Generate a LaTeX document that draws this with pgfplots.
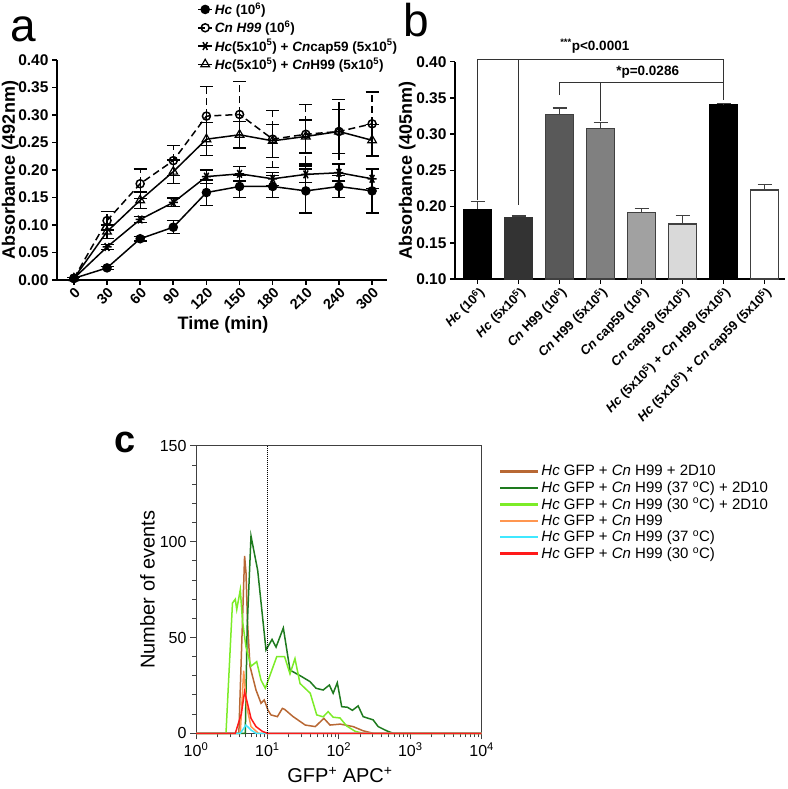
\documentclass[border=0pt]{standalone}
\usepackage{pgfplots}
\pgfplotsset{compat=1.18}
\usepackage{fontspec}
\setmainfont{Liberation Sans}
\newcommand{\fs}[1]{\fontsize{#1}{#1}\selectfont}
\definecolor{cbrown}{RGB}{184,104,52}
\definecolor{cdgreen}{RGB}{30,122,30}
\definecolor{clgreen}{RGB}{124,236,40}
\definecolor{corange}{RGB}{255,150,80}
\definecolor{ccyan}{RGB}{64,232,255}
\definecolor{cred}{RGB}{255,26,26}
\begin{document}
\begin{tikzpicture}
\useasboundingbox (0pt,0pt) rectangle (787pt,789pt);
\node[anchor=base west, inner sep=0] at (10pt,747pt) {\fs{46}a};
\node[anchor=base west, inner sep=0] at (403pt,752pt) {\fs{46}b};
\node[anchor=base west, inner sep=0] at (114pt,336pt) {\fs{38}\bfseries c};

% ---------------- panel a
\begin{axis}[
  at={(57pt,509pt)}, anchor=south west, scale only axis,
  width=330pt, height=220pt,
  xmin=-0.51, xmax=9.45, ymin=0, ymax=0.40,
  axis x line*=bottom, axis y line*=left,
  axis line style={line width=1.6pt, black},
  xtick={0,...,9}, xticklabels={0,30,60,90,120,150,180,210,240,300},
  ytick={0,0.05,0.10,0.15,0.20,0.25,0.30,0.35,0.40},
  yticklabel style={/pgf/number format/.cd, fixed, fixed zerofill, precision=2},
  /pgf/number format/assume math mode=true,
  tick style={line width=1.6pt, black}, tick align=outside, major tick length=5pt,
  ticklabel style={font=\fs{15.5}\bfseries},
  xticklabel style={rotate=45, anchor=north east, inner sep=1pt, font=\fs{14.5}\bfseries},
  xlabel={Time (min)}, ylabel={Absorbance (492nm)},
  xlabel style={at={(axis description cs:0.503,-0.205)}, anchor=center},
  ylabel style={at={(axis description cs:-0.142,0.5)}, anchor=center},
  label style={font=\fs{18}\bfseries},
  clip=false,
  legend style={at={(axis description cs:0.425,1.27)}, anchor=north west, draw=none, fill=none,
    font=\fs{13.5}\bfseries, row sep=1pt, inner sep=0pt},
  legend cell align=left,
  legend image code/.code={\draw[mark repeat=2,mark phase=2,#1] plot coordinates {(0pt,0pt)(7pt,0pt)(14pt,0pt)};},
  error bars/error bar style={line width=1.3pt, black},
  error bars/error mark options={rotate=90, mark size=6.5pt, line width=1.3pt, black},
]
\addplot[line width=1.5pt, black, mark=*, mark size=4pt, mark options={solid, fill=black},
  error bars/.cd, y dir=both, y explicit] coordinates {
 (0,0.003) +- (0,0.002) (1,0.022) +- (0,0.003) (2,0.075) +- (0,0.004) (3,0.096) +- (0,0.012)
 (4,0.159) +- (0,0.023) (5,0.170) +- (0,0.020) (6,0.170) +- (0,0.020) (7,0.162) +- (0,0.040)
 (8,0.170) +- (0,0.020) (9,0.162) +- (0,0.040)};
\addlegendentry{\textit{Hc} (10\textsuperscript{6})}
\addplot[line width=1.5pt, black, dash pattern=on 7pt off 4pt, mark=o, mark size=4pt, mark options={solid, fill=white},
  error bars/.cd, y dir=both, y explicit] coordinates {
 (0,0.003) +- (0,0.002) (1,0.108) +- (0,0.017) (2,0.175) +- (0,0.027) (3,0.217) +- (0,0.027)
 (4,0.298) +- (0,0.054) (5,0.301) +- (0,0.060) (6,0.256) +- (0,0.052) (7,0.265) +- (0,0.054)
 (8,0.270) +- (0,0.058) (9,0.284) +- (0,0.058)};
\addlegendentry{\textit{Cn H99} (10\textsuperscript{6})}
\addplot[line width=1.5pt, black, mark=asterisk, mark size=4.5pt, mark options={solid, rotate=90},
  error bars/.cd, y dir=both, y explicit] coordinates {
 (0,0.003) +- (0,0.002) (1,0.060) +- (0,0.004) (2,0.110) +- (0,0.005) (3,0.141) +- (0,0.008)
 (4,0.188) +- (0,0.012) (5,0.193) +- (0,0.013) (6,0.184) +- (0,0.012) (7,0.192) +- (0,0.015)
 (8,0.195) +- (0,0.015) (9,0.184) +- (0,0.018)};
\addlegendentry{\textit{Hc}(5x10\textsuperscript{5}) + \textit{Cn}cap59 (5x10\textsuperscript{5})}
\addplot[line width=1.5pt, black, mark=triangle, mark size=5pt, mark options={solid, fill=white, line width=1.2pt},
  error bars/.cd, y dir=both, y explicit] coordinates {
 (0,0.003) +- (0,0.002) (1,0.088) +- (0,0.012) (2,0.145) +- (0,0.015) (3,0.197) +- (0,0.021)
 (4,0.256) +- (0,0.030) (5,0.264) +- (0,0.024) (6,0.253) +- (0,0.030) (7,0.261) +- (0,0.030)
 (8,0.270) +- (0,0.040) (9,0.254) +- (0,0.029)};
\addlegendentry{\textit{Hc}(5x10\textsuperscript{5}) + \textit{Cn}H99 (5x10\textsuperscript{5})}
\end{axis}

% ---------------- panel b
\begin{axis}[
  at={(455pt,510pt)}, anchor=south west, scale only axis,
  width=330pt, height=217.3pt,
  xmin=-0.55, xmax=7.5, ymin=0.10, ymax=0.40,
  axis x line*=bottom, axis y line*=left,
  axis line style={line width=1.6pt, black},
  ybar, bar width=0.69, bar shift=0pt,
  xtick={0,...,7},
  xticklabels={{\textit{Hc} (10\textsuperscript{6})},{\textit{Hc} (5x10\textsuperscript{5})},
   {\textit{Cn} H99 (10\textsuperscript{6})},{\textit{Cn} H99 (5x10\textsuperscript{5})},
   {\textit{Cn} cap59 (10\textsuperscript{6})},{\textit{Cn} cap59 (5x10\textsuperscript{5})},
   {\textit{Hc} (5x10\textsuperscript{5}) + \textit{Cn} H99 (5x10\textsuperscript{5})},
   {\textit{Hc} (5x10\textsuperscript{5}) + \textit{Cn} cap59 (5x10\textsuperscript{5})}},
  ytick={0.10,0.15,0.20,0.25,0.30,0.35,0.40},
  yticklabel style={/pgf/number format/.cd, fixed, fixed zerofill, precision=2},
  /pgf/number format/assume math mode=true,
  tick style={line width=1.6pt, black}, tick align=outside, major tick length=5pt,
  ticklabel style={font=\fs{15.5}\bfseries},
  xticklabel style={rotate=45, anchor=north east, inner sep=1pt, font=\fs{13}\bfseries},
  ylabel={Absorbance (405nm)},
  ylabel style={at={(axis description cs:-0.145,0.5)}, anchor=center},
  label style={font=\fs{18}\bfseries},
  clip=false,
  error bars/error bar style={line width=1.3pt, black!75},
  error bars/error mark options={rotate=90, mark size=7pt, line width=1.3pt, black!75},
]
\addplot[fill=black, draw=black, line width=1.2pt, error bars/.cd, y dir=plus, y explicit]
  coordinates {(0,0.196) +- (0,0.011)};
\addplot[fill=black!80, draw=black!80, line width=1.2pt, error bars/.cd, y dir=plus, y explicit]
  coordinates {(1,0.185) +- (0,0.002)};
\addplot[fill=black!65, draw=black!75, line width=1.2pt, error bars/.cd, y dir=plus, y explicit]
  coordinates {(2,0.327) +- (0,0.009)};
\addplot[fill=black!50, draw=black!75, line width=1.2pt, error bars/.cd, y dir=plus, y explicit]
  coordinates {(3,0.308) +- (0,0.008)};
\addplot[fill=black!37, draw=black!75, line width=1.2pt, error bars/.cd, y dir=plus, y explicit]
  coordinates {(4,0.192) +- (0,0.005)};
\addplot[fill=black!15, draw=black!75, line width=1.2pt, error bars/.cd, y dir=plus, y explicit]
  coordinates {(5,0.176) +- (0,0.012)};
\addplot[fill=black, draw=black, line width=1.2pt, error bars/.cd, y dir=plus, y explicit]
  coordinates {(6,0.341) +- (0,0.001)};
\addplot[fill=white, draw=black!75, line width=1.2pt, error bars/.cd, y dir=plus, y explicit]
  coordinates {(7,0.223) +- (0,0.007)};
\draw[line width=1pt, black!80] (axis cs:0,0.209) |- (axis cs:6,0.4025) -- (axis cs:6,0.347);
\draw[line width=1pt, black!80] (axis cs:1,0.4025) -- (axis cs:1,0.202);
\draw[line width=1pt, black!80] (axis cs:2,0.354) |- (axis cs:6,0.371) -- (axis cs:6,0.352);
\draw[line width=1pt, black!80] (axis cs:3,0.371) -- (axis cs:3,0.318);
\node[font=\fs{13.5}\bfseries] at (axis cs:2.86,0.421) {\textsuperscript{***}p<0.0001};
\node[font=\fs{13.5}\bfseries] at (axis cs:4.15,0.385) {*p=0.0286};
\end{axis}

% ---------------- panel c
\begin{axis}[
  at={(196pt,55.7pt)}, anchor=south west, scale only axis,
  width=285.7pt, height=287.3pt,
  xmode=log, xmin=1, xmax=10000, ymin=0, ymax=150,
  xtick={1,10,100,1000,10000},
  xticklabels={10\textsuperscript{0},10\textsuperscript{1},10\textsuperscript{2},10\textsuperscript{3},10\textsuperscript{4}},
  minor xtick={2,3,4,5,6,7,8,9,20,30,40,50,60,70,80,90,200,300,400,500,600,700,800,900,2000,3000,4000,5000,6000,7000,8000,9000},
  ytick={0,50,100,150}, minor ytick={10,20,30,40,60,70,80,90,110,120,130,140},
  xtick pos=bottom, ytick pos=left, tick align=outside,
  major tick length=6pt, minor tick length=4pt,
  axis line style={line width=1pt, black!75},
  tick style={line width=1pt, black!75},
  /pgf/number format/assume math mode=true,
  ticklabel style={font=\fs{16}},
  xlabel={GFP\textsuperscript{+} APC\textsuperscript{+}}, ylabel={Number of events},
  xlabel style={at={(axis description cs:0.504,-0.145)}, anchor=center},
  ylabel style={at={(axis description cs:-0.17,0.5)}, anchor=center},
  label style={font=\fs{20}},
  clip=false,
  legend style={at={(axis description cs:1.06,0.94)}, anchor=north west, draw=none, fill=none,
    font=\fs{15}, row sep=0.2pt, inner sep=0pt},
  legend cell align=left,
  legend image code/.code={\draw[#1, line width=2.4pt] (0pt,0pt) -- (38pt,0pt);},
]
\addplot[line width=1.5pt, color=cbrown] coordinates {
 (1,0) (3.98,0) (4.79,92.6) (5.01,84) (5.25,59) (5.70,35) (6.92,22.6) (8.13,15.7) (9.04,17.4)
 (10.2,12) (11.2,9.6) (13.8,8.7) (16.2,13) (17.4,12.5) (22.9,8.7) (33.9,4.3) (46.8,3.5)
 (61.7,7.8) (75.2,4.3) (104.7,4.8) (158.5,3.5) (218.8,1.3) (302,0) (10000,0)};
\addlegendentry{\textit{Hc} GFP + \textit{Cn} H99 + 2D10}
\addplot[line width=1.5pt, color=cdgreen] coordinates {
 (1,0) (4.9,0) (5.2,55) (5.89,103) (7.31,85) (9.55,43.5) (11.6,49) (13.2,45) (16.7,55)
 (20.7,33) (30.2,29.6) (39.4,27) (47.9,23.5) (60.3,22.6) (73.6,25.2) (83.2,20.9) (95.1,26.4)
 (109.6,13.9) (131.8,13.6) (154.9,12) (186.2,14.3) (218.8,8.7) (302,7) (354.8,3.5)
 (467.7,1.3) (575.4,0) (10000,0)};
\addlegendentry{\textit{Hc} GFP + \textit{Cn} H99 (37 \textsuperscript{o}C) + 2D10}
\addplot[line width=1.5pt, color=clgreen] coordinates {
 (1,0) (2.63,0) (3.24,68) (3.55,70) (3.72,64.6) (4.17,75) (4.47,59) (5.01,45) (5.89,35)
 (7.08,37.4) (8.13,27.8) (9.33,23.5) (13.5,40) (17.4,40) (20.7,31) (24.3,39) (28.6,26)
 (39.8,20.9) (49.0,9.6) (60.3,8.6) (70.8,11.3) (83.2,8.4) (103.8,8) (128.8,3.8) (169.8,1)
 (218.8,0) (10000,0)};
\addlegendentry{\textit{Hc} GFP + \textit{Cn} H99 (30 \textsuperscript{o}C) + 2D10}
\addplot[line width=1.5pt, color=corange] coordinates {
 (1,0) (4.17,0) (4.65,32.7) (5.13,13.9) (5.89,3.5) (7.5,0) (10000,0)};
\addlegendentry{\textit{Hc} GFP + \textit{Cn} H99}
\addplot[line width=1.5pt, color=ccyan] coordinates {
 (1,0) (4.17,0) (5.01,4.3) (5.89,1.7) (6.92,0) (10000,0)};
\addlegendentry{\textit{Hc} GFP + \textit{Cn} H99 (37 \textsuperscript{o}C)}
\addplot[line width=1.5pt, color=cred] coordinates {
 (1,0) (3.55,0) (4.3,10) (4.79,21.7) (5.25,15.7) (5.89,7.8) (6.92,3.5) (8.51,1) (10,0) (10000,0)};
\addlegendentry{\textit{Hc} GFP + \textit{Cn} H99 (30 \textsuperscript{o}C)}
\addplot[forget plot, line width=1pt, black, densely dotted] coordinates {(10,0) (10,150)};
\end{axis}
\end{tikzpicture}
\end{document}
